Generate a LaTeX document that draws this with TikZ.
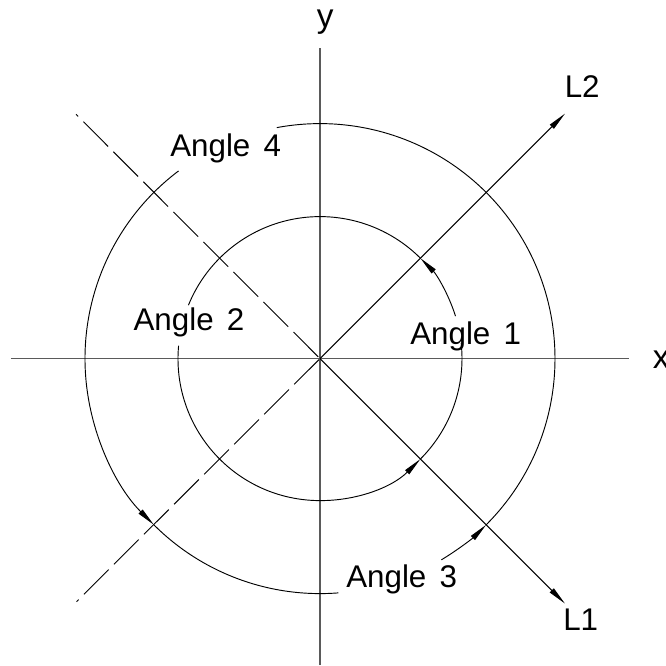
\documentclass[tikz,border=0pt]{standalone}
\usepackage{fontspec}
\setmainfont{Liberation Sans}
\usetikzlibrary{arrows.meta}
\definecolor{axisgray}{RGB}{90,90,90}

\begin{document}
\begin{tikzpicture}[x=0.75pt, y=0.75pt,
            axisline/.style={axisgray, line width=1pt},
            thinline/.style={black, line width=0.7pt},
            tipend/.style={-{Triangle[length=14pt,width=4.2pt]}},
            centerline/.style={thinline, dash pattern=on 26.25pt off 5.6pt, dash phase=24pt},
            angtxt/.style={font=\fontsize{23.5}{28}\selectfont, inner sep=0pt, anchor=base west},
            axtxt/.style={font=\fontsize{25}{29}\selectfont, inner sep=0pt, anchor=base west}]
            \useasboundingbox (-320,-306.4) rectangle (346,358.6);
            \coordinate (O) at (0,0);
            \coordinate (xmin) at (-309,0);
            \coordinate (xmax) at (309,0);
            \coordinate (ymax) at (0,310.3);
            \coordinate (ymin) at (0,-306.4);
            \coordinate (L1end) at (245,-245);
            \coordinate (L2end) at (245,245);
            \coordinate (L3a) at (-244,244.3);
            \coordinate (L3b) at (-243.5,-243.1);
            % axes and lines
            \draw[axisline] (xmin) -- (xmax);
            \draw[axisline] (ymin) -- (ymax);
            \draw[thinline, tipend] (O) -- (L2end);
            \draw[thinline, tipend] (O) -- (L1end);
            \draw[centerline] (L3a) -- (O);
            \draw[centerline] (L3b) -- (O);
            % inner arcs
            \draw[thinline] (O) ++(-45:142) arc[start angle=-45, end angle=6.2, radius=142];
            \draw[thinline, tipend] (O) ++(17.4:142) arc[start angle=17.4, end angle=45, radius=142];
            \draw[thinline] (O) ++(45:142) arc[start angle=45, end angle=157.9, radius=142];
            \draw[thinline, tipend] (O) ++(174.8:142) arc[start angle=174.8, end angle=315, radius=142];
            % outer arcs
            \draw[thinline] (O) ++(-45:235) arc[start angle=-45, end angle=100.6, radius=235];
            \draw[thinline, tipend] (O) ++(127:235) arc[start angle=127, end angle=225, radius=235];
            \draw[thinline] (O) ++(225:235) arc[start angle=225, end angle=274.5, radius=235];
            \draw[thinline, tipend] (O) ++(301.1:235) arc[start angle=301.1, end angle=315, radius=235];
            % labels
            \node[axtxt] (xlbl) at (332.5,-9.7) {x};
            \node[axtxt] (ylbl) at (-3.5,331.5) {y};
            \node[angtxt] (L2lbl) at (244.5,260.9) {L2};
            \node[angtxt] (L1lbl) at (243,-271.4) {L1};
            \node[angtxt] (ang1) at (90,14.3) {Angle\hspace{0.42em}1};
            \node[angtxt] (ang2) at (-186.7,27.9) {Angle\hspace{0.42em}2};
            \node[angtxt] (ang3) at (26,-228.7) {Angle\hspace{0.42em}3};
            \node[angtxt] (ang4) at (-150,201.9) {Angle\hspace{0.42em}4};
        \end{tikzpicture}
\end{document}
